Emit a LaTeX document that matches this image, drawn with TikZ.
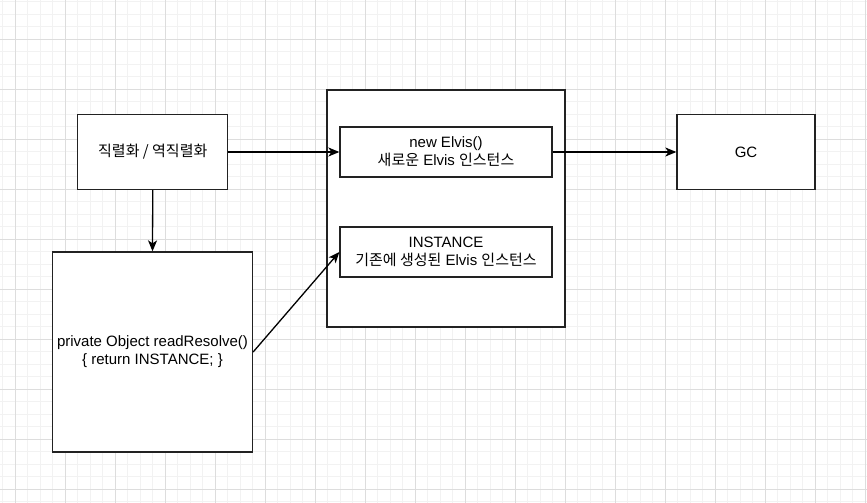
\documentclass[tikz,border=0pt]{standalone}
\usepackage{fontspec}
\setmainfont{Liberation Sans}
\newfontfamily\kr{Noto Sans CJK KR}
\usetikzlibrary{arrows.meta}
\definecolor{gridminor}{HTML}{F2F2F2}
\definecolor{gridmajor}{HTML}{DDDDDD}
\definecolor{strokec}{HTML}{222222}
\tikzset{
  boxst/.style={draw=strokec, line width=1.3pt, fill=white, inner sep=0pt, align=center,
    font=\fontsize{15pt}{18pt}\selectfont},
  conn/.style={draw=black, line width=1.3pt, -{Stealth[length=11pt,width=9pt,inset=3pt]}}
}
\begin{document}
\begin{tikzpicture}[x=1pt,y=-1pt]
\useasboundingbox (0,0) rectangle (867,503);
\fill[white] (0,0) rectangle (867,503);
% grid
\foreach \i in {0,...,69} {
  \draw[gridminor, line width=1pt] ({2.5+12.5*\i},0) -- ({2.5+12.5*\i},503);
}
\foreach \j in {0,...,40} {
  \draw[gridminor, line width=1pt] (0,{1.8+12.5*\j}) -- (867,{1.8+12.5*\j});
}
\foreach \i in {0,...,17} {
  \draw[gridmajor, line width=1pt] ({15+50*\i},0) -- ({15+50*\i},503);
}
\foreach \j in {0,...,9} {
  \draw[gridmajor, line width=1pt] (0,{39.3+50*\j}) -- (867,{39.3+50*\j});
}
% nodes
\node[boxst, minimum width=150pt, minimum height=75pt] (ser) at (152.75,152) {\kr 직렬화 / 역직렬화};
\node[boxst, minimum width=238pt, minimum height=237pt] (cont) at (446,208.5) {};
\node[boxst, minimum width=212pt, minimum height=50pt] (newe) at (446,152) {new Elvis()\\{\kr 새로운} Elvis {\kr 인스턴스}};
\node[boxst, minimum width=212pt, minimum height=50pt] (inst) at (446,252) {INSTANCE\\{\kr 기존에 생성된} Elvis {\kr 인스턴스}};
\node[boxst, minimum width=138pt, minimum height=75pt] (gc) at (746,152) {GC};
\node[boxst, minimum width=200pt, minimum height=200pt] (rr) at (152.5,352) {private Object readResolve()\\\{ return INSTANCE; \}};
% connectors
\draw[conn] (ser.east) -- (newe.west);
\draw[conn] (newe.east) -- (gc.west);
\draw[conn] (ser.south) -- (rr.north);
\draw[conn] (rr.east) -- (inst.west);
\end{tikzpicture}
\end{document}
